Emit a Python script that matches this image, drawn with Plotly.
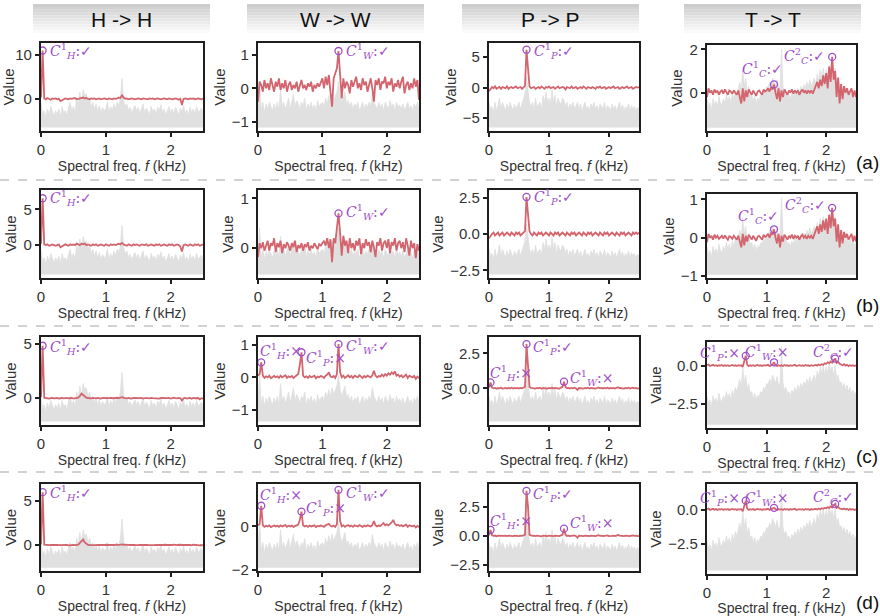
import numpy as np
import plotly.graph_objects as go

# frequency grid (kHz), 101 bins over 0..2.5
FREQ = np.linspace(0, 2.5, 101)

COLUMNS = ['H -> H', 'W -> W', 'P -> P', 'T -> T']
ROW_TAGS = ['(a)', '(b)', '(c)', '(d)']

# red: learned spectrum per panel (row a..d, column H, W, P, T)
RED_H_A = [0.3, 11.0, 0.1, -0.1, 0.2, 0.0, -0.2, 0.1, 0.0, 0.1,
           -0.1, 0.0, -0.5, -0.3, 0.0, 0.1, 0.0, -0.1, 0.1, 0.0,
           0.1, 0.2, -0.1, 0.0, 0.1, 0.2, 0.3, 0.1, 0.2, 0.0,
           -0.1, 0.1, 0.0, 0.1, -0.1, 0.0, 0.1, -0.1, 0.0, 0.1,
           0.0, -0.1, 0.1, 0.0, -0.1, 0.1, 0.0, 0.1, 0.3, 0.2,
           0.8, 0.3, 0.0, 0.1, -0.1, 0.0, 0.1, 0.0, -0.1, 0.0,
           0.1, 0.0, -0.1, 0.1, 0.0, 0.0, -0.1, 0.1, 0.0, 0.1,
           -0.1, 0.0, 0.1, 0.0, -0.1, 0.0, 0.1, 0.0, -0.1, 0.1,
           0.0, -0.1, 0.0, 0.1, 0.0, -0.2, 0.0, -1.4, 0.0, 0.1,
           0.0, -0.1, 0.1, 0.0, 0.1, -0.1, 0.0, 0.1, 0.0, -0.1,
           0.1]
RED_W_A = [-0.4, 0.2, 0.1, -0.1, 0.25, 0.0, 0.15, -0.05, 0.3, 0.1,
           -0.1, 0.2, 0.05, 0.3, -0.05, 0.15, 0.0, 0.25, -0.1, 0.1,
           0.2, -0.05, 0.1, 0.0, 0.2, -0.1, 0.1, 0.25, 0.0, 0.1,
           -0.05, 0.15, 0.05, 0.2, -0.1, 0.1, 0.0, 0.15, 0.05, 0.2,
           0.3, 0.0, 0.35, 0.1, 0.4, -0.1, -0.55, 0.3, 0.45, 0.6,
           1.12, 0.35, -0.3, 0.3, 0.0, 0.2, 0.1, -0.15, 0.25, 0.05,
           0.2, 0.35, 0.0, 0.15, -0.05, 0.3, 0.1, 0.2, -0.1, 0.15,
           0.3, 0.0, -0.4, 0.25, 0.1, 0.3, -0.05, 0.2, 0.15, 0.35,
           0.0, 0.2, 0.1, 0.3, -0.1, 0.15, 0.05, 0.25, 0.0, 0.2,
           0.35, -0.15, 0.1, 0.2, -0.05, 0.15, 0.0, 0.3, 0.05, 0.25,
           -0.35]
RED_P_A = [-0.6, -0.2, 0.1, -0.1, 0.2, -0.2, 0.0, 0.1, -0.2, 0.1,
           0.0, -0.1, 0.2, -0.2, 0.0, 0.1, -0.1, 0.0, 0.2, -0.1,
           0.0, 0.1, -0.2, 0.0, 0.3, 6.2, 3.5, 0.2, -0.1, 0.0,
           0.1, -0.2, 0.0, 0.1, -0.1, 0.2, 0.0, -0.2, 0.1, 0.0,
           0.2, -0.1, 0.0, 0.1, -0.2, 0.0, 0.2, -0.1, 0.0, 0.1,
           0.0, -0.3, 0.1, 0.0, -0.1, 0.2, -0.1, 0.0, 0.1, -0.2,
           0.0, 0.1, -0.1, 0.2, 0.0, -0.2, 0.1, 0.0, -0.1, 0.1,
           0.0, -0.2, 0.1, 0.0, 0.2, -0.1, 0.0, 0.1, -0.2, 0.0,
           0.1, -0.1, 0.0, 0.2, -0.1, 0.0, 0.1, -0.2, 0.0, 0.1,
           -0.1, 0.0, 0.2, -0.1, 0.0, 0.1, -0.2, 0.0, 0.1, 0.0,
           0.1]
RED_T_A = [-0.2, 0.2, 0.0, 0.1, -0.1, 0.15, 0.0, 0.1, -0.1, 0.05,
           0.1, -0.05, 0.15, 0.0, -0.1, 0.1, 0.05, -0.05, 0.1, 0.0,
           -0.1, 0.1, -0.2, -0.5, 0.2, -0.4, 0.1, -0.2, 0.15, 0.0,
           -0.1, 0.1, 0.0, -0.15, 0.05, 0.1, 0.0, -0.1, 0.15, 0.05,
           0.1, 0.2, 0.05, 0.25, 0.15, 0.38, 0.0, -0.3, 0.2, -0.4,
           0.1, -0.2, 0.15, 0.0, -0.1, 0.1, 0.0, 0.15, -0.05, 0.1,
           0.0, 0.1, -0.1, 0.05, 0.15, 0.0, 0.1, -0.05, 0.1, 0.0,
           0.1, -0.05, 0.15, 0.3, 0.5, 0.2, 0.6, 0.3, 0.8, 0.4,
           0.9, 0.2, 1.2, 0.5, 1.65, 0.6, 1.0, -0.2, 0.7, -0.5,
           0.4, -0.3, 0.3, 0.0, 0.2, -0.1, 0.1, 0.2, -0.2, 0.1,
           -0.2]

RED_H_B = [0.2, 6.55, 0.1, 0.0, 0.1, -0.1, 0.0, 0.1, 0.0, -0.1,
           0.0, 0.1, -0.3, -0.2, 0.0, 0.1, 0.0, -0.1, 0.1, 0.0,
           0.1, 0.0, 0.2, 0.1, 0.0, 0.2, 0.1, 0.2, 0.0, 0.1,
           0.0, -0.1, 0.1, 0.0, 0.1, -0.1, 0.0, 0.1, 0.0, -0.1,
           0.1, 0.0, -0.1, 0.1, 0.0, 0.1, 0.0, 0.1, 0.2, 0.1,
           0.3, 0.1, 0.0, -0.1, 0.1, 0.0, -0.1, 0.1, 0.0, 0.1,
           0.0, -0.1, 0.1, 0.0, 0.0, 0.1, -0.1, 0.0, 0.1, 0.0,
           -0.1, 0.1, 0.0, 0.1, -0.1, 0.0, 0.1, 0.0, -0.1, 0.1,
           0.0, 0.1, -0.1, 0.0, 0.1, 0.0, -0.2, -0.9, 0.0, 0.1,
           0.0, -0.1, 0.1, 0.0, -0.1, 0.1, 0.0, 0.1, -0.1, 0.0,
           0.1]
RED_W_B = [-0.18, 0.1, 0.0, 0.12, -0.05, 0.08, 0.15, -0.05, 0.1, 0.05,
           0.2, -0.08, 0.1, 0.02, 0.15, -0.1, 0.08, 0.0, 0.12, 0.05,
           -0.05, 0.1, 0.02, 0.15, -0.08, 0.06, 0.0, 0.1, -0.05, 0.08,
           0.02, 0.12, -0.05, 0.05, 0.0, 0.1, 0.03, -0.02, 0.08, 0.05,
           0.1, 0.15, 0.05, 0.2, 0.0, 0.18, -0.28, 0.2, 0.1, 0.35,
           0.7, 0.3, -0.15, 0.25, 0.05, 0.15, -0.1, 0.2, 0.0, 0.1,
           -0.05, 0.15, 0.05, 0.2, -0.12, 0.1, 0.0, 0.18, 0.05, 0.12,
           -0.08, 0.15, 0.02, -0.18, 0.12, 0.05, 0.2, -0.05, 0.1, 0.15,
           0.0, 0.18, -0.1, 0.12, 0.05, 0.2, -0.05, 0.1, 0.15, 0.0,
           0.12, -0.08, 0.2, 0.05, -0.15, 0.15, 0.0, 0.1, -0.2, 0.08,
           -0.05]
RED_P_B = [-0.3, -0.1, 0.0, 0.1, -0.1, 0.0, 0.1, -0.1, 0.0, 0.1,
           -0.1, 0.0, 0.1, 0.0, -0.1, 0.1, 0.0, -0.1, 0.1, 0.0,
           0.1, -0.1, 0.0, 0.1, 0.2, 2.55, 1.5, 0.2, 0.0, -0.1,
           0.1, 0.0, -0.1, 0.1, 0.0, 0.1, -0.1, 0.0, 0.1, 0.0,
           -0.1, 0.1, 0.0, -0.1, 0.1, 0.0, 0.1, -0.1, 0.0, 0.1,
           0.0, -0.1, 0.1, 0.0, -0.1, 0.1, 0.0, 0.1, -0.1, 0.0,
           0.1, 0.0, -0.1, 0.1, 0.0, -0.1, 0.1, 0.0, 0.1, -0.1,
           0.0, 0.1, 0.0, -0.1, 0.1, 0.0, -0.1, 0.1, 0.0, 0.1,
           -0.1, 0.0, 0.1, 0.0, -0.1, 0.1, 0.0, -0.1, 0.1, 0.0,
           0.1, -0.1, 0.0, 0.1, 0.0, -0.1, 0.1, 0.0, 0.1, 0.0,
           0.1]
RED_T_B = [-0.12, 0.1, 0.0, 0.05, -0.05, 0.08, 0.0, 0.05, -0.03, 0.02,
           0.05, -0.02, 0.06, 0.0, -0.05, 0.04, 0.02, -0.03, 0.05, 0.0,
           -0.05, 0.05, -0.1, -0.25, 0.1, -0.2, 0.05, -0.1, 0.08, 0.0,
           -0.05, 0.05, 0.0, -0.08, 0.03, 0.05, 0.0, -0.05, 0.08, 0.02,
           0.05, 0.1, 0.0, 0.12, 0.08, 0.22, 0.0, -0.15, 0.1, -0.25,
           0.05, -0.1, 0.08, 0.0, -0.05, 0.05, 0.0, 0.08, -0.03, 0.05,
           0.0, 0.05, -0.05, 0.03, 0.08, 0.0, 0.05, -0.03, 0.05, 0.0,
           0.05, -0.03, 0.08, 0.15, 0.3, 0.1, 0.35, 0.15, 0.45, 0.2,
           0.5, 0.1, 0.6, 0.25, 0.78, 0.3, 0.5, -0.1, 0.35, -0.25,
           0.2, -0.15, 0.15, 0.0, 0.1, -0.05, 0.05, 0.1, -0.1, 0.05,
           -0.1]

RED_H_C = [0.1, 4.8, 0.05, 0.0, 0.02, -0.03, 0.0, 0.03, -0.02, 0.0,
           0.02, -0.03, 0.0, 0.02, -0.02, 0.0, 0.03, -0.02, 0.0, 0.02,
           -0.03, 0.0, 0.02, 0.05, 0.2, 0.42, 0.3, 0.15, 0.05, 0.02,
           0.0, -0.02, 0.03, 0.0, -0.02, 0.02, 0.0, -0.03, 0.02, 0.0,
           0.03, -0.02, 0.0, 0.02, -0.02, 0.0, 0.03, 0.0, 0.02, 0.05,
           0.1, 0.03, 0.0, -0.02, 0.02, 0.0, -0.03, 0.02, 0.0, 0.03,
           -0.02, 0.0, 0.02, -0.03, 0.0, 0.02, 0.0, -0.02, 0.03, 0.0,
           -0.02, 0.02, 0.0, -0.03, 0.02, 0.0, 0.03, -0.02, 0.0, 0.02,
           -0.03, 0.0, 0.05, 0.0, -0.02, 0.03, 0.0, -0.2, 0.0, 0.02,
           -0.03, 0.0, 0.02, -0.05, 0.03, 0.0, -0.02, 0.02, -0.1, 0.0,
           -0.05]
RED_W_C = [0.05, 0.1, 0.46, 0.05, -0.02, 0.03, 0.0, 0.05, -0.03, 0.02,
           0.04, 0.0, 0.03, -0.02, 0.05, 0.0, 0.02, 0.06, -0.02, 0.03,
           0.0, 0.04, -0.02, 0.03, 0.05, 0.1, 0.4, 0.77, 0.05, 0.0,
           0.03, -0.02, 0.04, 0.0, 0.02, 0.05, -0.03, 0.02, 0.0, 0.04,
           0.02, -0.02, 0.05, 0.08, 0.15, 0.03, 0.0, 0.04, -0.02, 0.1,
           1.02, 0.15, 0.0, 0.05, -0.02, 0.03, 0.06, 0.0, 0.04, -0.02,
           0.05, 0.02, 0.0, 0.06, 0.03, -0.02, 0.04, 0.0, 0.05, 0.02,
           0.0, 0.06, 0.2, 0.05, 0.0, 0.04, 0.02, 0.08, 0.03, 0.1,
           0.05, 0.12, 0.08, 0.15, 0.1, 0.18, 0.05, 0.08, 0.02, 0.06,
           0.0, 0.04, 0.08, -0.02, 0.05, 0.02, 0.0, 0.04, -0.05, 0.02,
           -0.03]
RED_P_C = [0.05, 0.42, 0.05, 0.0, 0.03, -0.03, 0.02, 0.0, 0.04, -0.02,
           0.0, 0.03, -0.02, 0.02, 0.0, 0.04, -0.02, 0.02, 0.0, 0.03,
           -0.02, 0.02, 0.0, 0.05, 0.1, 3.15, 1.8, 0.1, 0.02, 0.0,
           0.03, -0.02, 0.02, 0.0, 0.04, -0.03, 0.02, 0.0, 0.03, -0.02,
           0.02, 0.0, 0.04, -0.02, 0.02, 0.0, 0.03, -0.02, 0.05, 0.1,
           0.47, 0.1, 0.0, 0.03, -0.02, 0.02, 0.0, 0.04, -0.02, -0.12,
           0.02, 0.0, 0.03, -0.02, 0.02, 0.0, 0.04, -0.02, 0.02, 0.0,
           0.03, -0.02, 0.02, 0.06, 0.0, 0.03, -0.02, 0.02, 0.0, 0.04,
           -0.02, 0.02, 0.0, 0.03, -0.02, 0.02, 0.08, 0.02, 0.0, 0.03,
           -0.02, 0.02, 0.0, 0.04, -0.02, 0.02, 0.05, 0.0, 0.03, -0.02,
           0.0]
RED_T_C = [0.05, 0.1, 0.0, 0.05, 0.08, 0.02, 0.06, 0.0, 0.05, 0.03,
           0.07, 0.0, 0.05, 0.02, 0.06, 0.0, 0.04, 0.07, 0.02, 0.05,
           0.0, 0.06, 0.03, 0.05, -0.05, 0.3, 0.68, 0.1, 0.0, 0.05,
           0.02, 0.06, 0.0, 0.04, 0.07, 0.02, 0.05, 0.0, 0.06, 0.03,
           0.05, 0.08, 0.0, 0.06, 0.1, 0.25, 0.05, 0.0, 0.06, 0.02,
           0.05, 0.0, 0.07, 0.03, 0.05, 0.0, 0.06, 0.02, 0.05, 0.08,
           0.0, 0.04, 0.06, 0.02, 0.05, 0.0, 0.07, 0.03, 0.05, 0.0,
           0.06, 0.02, 0.05, 0.08, 0.03, 0.1, 0.05, 0.12, 0.08, 0.18,
           0.15, 0.25, 0.2, 0.3, 0.22, 0.35, 0.5, 0.2, 0.28, 0.15,
           0.1, 0.05, 0.12, 0.03, 0.08, 0.0, 0.06, 0.02, 0.05, 0.0,
           0.05]

RED_H_D = [0.1, 6.0, 0.05, 0.0, 0.03, -0.02, 0.0, 0.02, -0.03, 0.0,
           0.02, -0.02, 0.0, 0.03, -0.02, 0.0, 0.02, -0.03, 0.0, 0.02,
           0.0, -0.02, 0.03, 0.05, 0.25, 0.5, 0.62, 0.3, 0.1, 0.02,
           0.0, -0.02, 0.03, 0.0, -0.02, 0.02, 0.0, -0.03, 0.02, 0.0,
           0.03, -0.02, 0.0, 0.02, -0.02, 0.0, 0.03, 0.0, 0.02, 0.04,
           0.08, 0.03, 0.0, -0.02, 0.02, 0.0, -0.03, 0.02, 0.0, 0.03,
           -0.02, 0.0, 0.02, -0.03, 0.0, 0.02, 0.0, -0.02, 0.03, 0.0,
           -0.02, 0.02, 0.0, -0.03, 0.02, 0.0, 0.03, -0.02, 0.0, 0.02,
           -0.03, 0.0, 0.04, 0.0, -0.02, 0.03, 0.0, -0.05, 0.0, 0.02,
           -0.03, 0.0, 0.02, -0.04, 0.03, 0.0, -0.02, 0.02, -0.05, 0.0,
           -0.03]
RED_W_D = [0.05, 0.1, 0.95, 0.05, -0.02, 0.03, 0.0, 0.05, -0.03, 0.02,
           0.04, 0.0, 0.03, -0.02, 0.05, 0.0, 0.02, 0.06, -0.02, 0.03,
           0.0, 0.04, -0.02, 0.03, 0.05, 0.08, 0.3, 0.68, 0.05, 0.0,
           0.03, -0.02, 0.04, 0.0, 0.02, 0.05, -0.03, 0.02, 0.0, 0.04,
           0.02, -0.02, 0.05, 0.08, 0.12, 0.03, 0.0, 0.04, -0.02, 0.1,
           1.68, 0.25, 0.0, 0.05, -0.02, 0.03, 0.06, 0.0, 0.04, -0.02,
           0.05, 0.02, 0.0, 0.06, 0.03, -0.02, 0.04, 0.0, 0.05, 0.02,
           0.0, 0.06, 0.25, 0.05, 0.0, 0.04, 0.02, 0.08, 0.15, 0.05,
           0.1, 0.05, 0.12, 0.18, 0.3, 0.12, 0.05, 0.08, 0.02, 0.06,
           0.0, 0.04, 0.08, -0.02, 0.05, 0.02, 0.0, 0.04, -0.05, 0.02,
           -0.03]
RED_P_D = [0.05, 0.51, 0.05, 0.0, 0.03, -0.03, 0.02, 0.0, 0.04, -0.02,
           0.0, 0.03, -0.02, 0.02, 0.0, 0.04, -0.02, 0.02, 0.0, 0.03,
           -0.02, 0.02, 0.0, 0.05, 0.1, 3.85, 2.5, 0.1, 0.02, 0.0,
           0.03, -0.02, 0.02, 0.0, 0.04, -0.03, 0.02, 0.0, 0.03, -0.02,
           0.02, 0.0, 0.04, -0.02, 0.02, 0.0, 0.03, -0.02, 0.05, 0.1,
           0.62, 0.1, 0.0, 0.03, -0.02, 0.02, 0.0, 0.04, -0.02, -0.15,
           0.02, 0.0, 0.03, -0.02, 0.02, 0.0, 0.04, -0.02, 0.02, 0.0,
           0.03, -0.02, 0.02, 0.06, 0.0, 0.03, -0.02, 0.02, 0.0, 0.04,
           -0.02, 0.02, 0.0, 0.03, -0.02, 0.02, 0.1, 0.02, 0.0, 0.03,
           -0.02, 0.02, 0.0, 0.04, -0.02, 0.02, 0.05, 0.0, 0.03, -0.02,
           0.0]
RED_T_D = [0.05, 0.1, 0.0, 0.05, 0.08, 0.02, 0.06, 0.0, 0.05, 0.03,
           0.07, 0.0, 0.05, 0.02, 0.06, 0.0, 0.04, 0.07, 0.02, 0.05,
           0.0, 0.06, 0.03, 0.05, -0.1, 0.35, 0.68, 0.1, 0.0, 0.05,
           0.02, 0.06, 0.0, 0.04, 0.07, 0.02, 0.05, 0.0, 0.06, 0.03,
           0.05, 0.08, 0.0, 0.06, 0.08, 0.15, 0.05, 0.0, 0.06, 0.02,
           0.05, 0.0, 0.07, 0.03, 0.05, 0.0, 0.06, 0.02, 0.05, 0.08,
           0.0, 0.04, 0.06, 0.02, 0.05, 0.0, 0.07, 0.03, 0.05, 0.0,
           0.06, 0.02, 0.05, 0.08, 0.03, 0.1, 0.05, 0.12, 0.08, 0.15,
           0.12, 0.2, 0.15, 0.25, 0.18, 0.3, 0.44, 0.15, 0.22, 0.1,
           0.08, 0.05, 0.1, 0.03, 0.08, 0.0, 0.06, 0.02, 0.05, 0.0,
           0.05]

# grey: input spectrum per column, as a fraction of the panel height
GREY_H = [0.3, 0.15, 0.2, 0.12, 0.22, 0.15, 0.25, 0.18, 0.14, 0.2,
          0.16, 0.22, 0.13, 0.25, 0.18, 0.2, 0.15, 0.24, 0.3, 0.2,
          0.25, 0.18, 0.35, 0.28, 0.42, 0.3, 0.45, 0.38, 0.4, 0.3,
          0.35, 0.25, 0.3, 0.22, 0.28, 0.2, 0.26, 0.18, 0.24, 0.2,
          0.22, 0.3, 0.18, 0.25, 0.2, 0.28, 0.22, 0.3, 0.26, 0.35,
          0.58, 0.32, 0.25, 0.28, 0.2, 0.24, 0.18, 0.22, 0.26, 0.2,
          0.24, 0.17, 0.22, 0.28, 0.18, 0.23, 0.2, 0.15, 0.25, 0.19,
          0.22, 0.16, 0.24, 0.2, 0.27, 0.18, 0.22, 0.15, 0.2, 0.25,
          0.18, 0.22, 0.16, 0.24, 0.2, 0.15, 0.23, 0.19, 0.26, 0.17,
          0.21, 0.15, 0.24, 0.18, 0.22, 0.16, 0.25, 0.19, 0.2, 0.23,
          0.18]
GREY_W = [0.25, 0.55, 0.2, 0.3, 0.18, 0.28, 0.22, 0.3, 0.25, 0.2,
          0.28, 0.22, 0.3, 0.2, 0.45, 0.25, 0.3, 0.22, 0.28, 0.35,
          0.22, 0.3, 0.4, 0.25, 0.32, 0.28, 0.22, 0.3, 0.26, 0.35,
          0.2, 0.28, 0.24, 0.3, 0.22, 0.27, 0.2, 0.32, 0.25, 0.28,
          0.3, 0.25, 0.35, 0.28, 0.38, 0.3, 0.4, 0.32, 0.36, 0.42,
          0.55, 0.38, 0.3, 0.35, 0.42, 0.28, 0.32, 0.25, 0.3, 0.22,
          0.28, 0.25, 0.3, 0.2, 0.26, 0.3, 0.22, 0.28, 0.24, 0.3,
          0.25, 0.4, 0.3, 0.26, 0.22, 0.3, 0.24, 0.28, 0.2, 0.3,
          0.26, 0.22, 0.32, 0.25, 0.28, 0.2, 0.3, 0.24, 0.27, 0.22,
          0.28, 0.2, 0.25, 0.3, 0.22, 0.26, 0.2, 0.28, 0.24, 0.3,
          0.22]
GREY_P = [0.3, 0.22, 0.25, 0.18, 0.3, 0.2, 0.26, 0.35, 0.22, 0.3,
          0.25, 0.2, 0.28, 0.22, 0.3, 0.25, 0.2, 0.28, 0.22, 0.26,
          0.3, 0.22, 0.28, 0.32, 0.4, 0.6, 0.45, 0.3, 0.25, 0.3,
          0.22, 0.35, 0.25, 0.28, 0.3, 0.22, 0.38, 0.3, 0.42, 0.3,
          0.35, 0.28, 0.45, 0.3, 0.38, 0.25, 0.35, 0.3, 0.28, 0.35,
          0.32, 0.25, 0.3, 0.22, 0.28, 0.25, 0.3, 0.22, 0.26, 0.3,
          0.22, 0.28, 0.2, 0.26, 0.3, 0.22, 0.25, 0.2, 0.28, 0.24,
          0.3, 0.22, 0.26, 0.2, 0.28, 0.25, 0.22, 0.3, 0.2, 0.26,
          0.24, 0.2, 0.28, 0.22, 0.26, 0.2, 0.25, 0.3, 0.22, 0.27,
          0.2, 0.25, 0.22, 0.28, 0.2, 0.26, 0.22, 0.25, 0.2, 0.24,
          0.22]
GREY_T = [0.35, 0.25, 0.3, 0.22, 0.35, 0.28, 0.32, 0.25, 0.38, 0.3,
          0.28, 0.35, 0.3, 0.4, 0.32, 0.38, 0.3, 0.42, 0.35, 0.45,
          0.4, 0.5, 0.55, 0.45, 0.7, 0.5, 0.6, 0.42, 0.5, 0.38,
          0.4, 0.32, 0.38, 0.3, 0.36, 0.33, 0.4, 0.38, 0.45, 0.42,
          0.5, 0.48, 0.55, 0.5, 0.6, 0.55, 0.5, 0.58, 0.48, 0.5,
          0.95, 0.5, 0.42, 0.45, 0.38, 0.4, 0.35, 0.42, 0.38, 0.45,
          0.4, 0.48, 0.42, 0.5, 0.45, 0.52, 0.48, 0.55, 0.5, 0.58,
          0.5, 0.55, 0.6, 0.52, 0.65, 0.58, 0.7, 0.62, 0.72, 0.6,
          0.7, 0.62, 0.75, 0.65, 0.7, 0.6, 0.72, 0.55, 0.6, 0.5,
          0.52, 0.45, 0.5, 0.42, 0.48, 0.4, 0.45, 0.38, 0.42, 0.36,
          0.4]

RED = [[RED_H_A, RED_W_A, RED_P_A, RED_T_A],
       [RED_H_B, RED_W_B, RED_P_B, RED_T_B],
       [RED_H_C, RED_W_C, RED_P_C, RED_T_C],
       [RED_H_D, RED_W_D, RED_P_D, RED_T_D]]
GREY = [GREY_H, GREY_W, GREY_P, GREY_T]

# y-axis ranges and ticks per panel
Y_RANGE = [[[-7.3, 12.7], [-1.28, 1.36], [-7.1, 7.3], [-1.77, 2.2]],
           [[-4.6, 7.7], [-0.6, 1.17], [-3.03, 3.03], [-1.05, 1.14]],
           [[-2.45, 5.6], [-1.47, 1.24], [-2.62, 3.66], [-4.12, 1.6]],
           [[-2.95, 6.93], [-2.05, 1.95], [-3.0, 4.44], [-4.7, 1.9]]]
Y_TICKS = [[[0, 10], [-1, 0, 1], [-5, 0, 5], [0, 2]],
           [[0, 5], [0, 1], [-2.5, 0, 2.5], [-1, 0, 1]],
           [[0, 5], [-1, 0, 1], [0, 2.5], [-2.5, 0]],
           [[0, 5], [-2, 0], [-2.5, 0, 2.5], [-2.5, 0]]]
Y_FMT_ROW = [['', '', '', ''], ['', '', '.1f', ''],
             ['', '', '.1f', '.1f'], ['', '', '.1f', '.1f']]

# peak marks: (bin index, sub letter, correct?, superscript)
MARKS = [[[(1, 'H', True)], [(50, 'W', True)], [(25, 'P', True)],
          [(45, 'C', True, '1'), (84, 'C', True, '2')]],
         [[(1, 'H', True)], [(50, 'W', True)], [(25, 'P', True)],
          [(45, 'C', True, '1'), (84, 'C', True, '2')]],
         [[(1, 'H', True)], [(2, 'H', False), (27, 'P', False), (50, 'W', True)],
          [(1, 'H', False), (25, 'P', True), (50, 'W', False)],
          [(26, 'P', False), (45, 'W', False), (86, 'C', True, '2')]],
         [[(1, 'H', True)], [(2, 'H', False), (27, 'P', False), (50, 'W', True)],
          [(1, 'H', False), (25, 'P', True), (50, 'W', False)],
          [(26, 'P', False), (45, 'W', False), (86, 'C', True, '2')]]]

# label placement (xanchor, xshift, yshift) for each mark
MARK_POS = [[[('left', 5, -1)], [('left', 5, 0)], [('left', 5, -1)],
             [('center', -12, 15), ('right', -5, 1)]],
            [[('left', 5, 0)], [('left', 5, 1)], [('left', 5, 0)],
             [('center', -16, 13), ('right', -4, 3)]],
            [[('left', 5, -1)], [('left', -3, 11), ('left', 3, -6), ('left', 5, -2)],
             [('left', -3, 9), ('left', 4, -3), ('left', 4, 4)],
             [('right', -4, 3), ('center', -8, 10), ('center', -2, 7)]],
            [[('left', 5, -1)], [('left', -3, 11), ('left', 3, 4), ('left', 5, -3)],
             [('left', -3, 9), ('left', 4, -3), ('left', 4, 6)],
             [('right', -4, 3), ('center', -8, 10), ('center', -2, 7)]]]

W, H = 880, 616
COL_X = [(41, 203), (258, 419), (489, 639), (707, 856)]
ROW_Y = [[(43, 131), (43, 131), (43, 131), (45, 131)],
         [(190, 278), (190, 278), (190, 278), (194, 278)],
         [(337, 425), (337, 425), (337, 425), (342, 428)],
         [(484, 571), (484, 571), (484, 571), (484, 574)]]

RED_COLOR = '#d2656e'
GREY_COLOR = '#e0e0e0'
PURPLE = '#a04fc8'
INK = '#1f1f1f'
FONT = 'Liberation Sans'


def name(prefix, n):
    return prefix if n == 1 else prefix + str(n)


fig = go.Figure()
layout = {}
annotations = []

for r in range(4):
    for c in range(4):
        n = r * 4 + c + 1
        m = n + 16
        x0, x1 = COL_X[c]
        y0, y1 = ROW_Y[r][c]
        xdom = [x0 / W, x1 / W]
        ydom = [1 - y1 / H, 1 - y0 / H]

        # grey background spectrum on a hidden axis
        fig.add_trace(go.Scatter(x=FREQ, y=GREY[c], mode='lines', fill='tozeroy',
                                 fillcolor=GREY_COLOR, line=dict(color=GREY_COLOR, width=0.8),
                                 xaxis=name('x', n), yaxis=name('y', n), hoverinfo='skip'))
        # red learned spectrum on the visible axis
        fig.add_trace(go.Scatter(x=FREQ, y=RED[r][c], mode='lines',
                                 line=dict(color=RED_COLOR, width=1.8),
                                 xaxis=name('x', n), yaxis=name('y', m)))

        marks = MARKS[r][c]
        mx = [FREQ[mk[0]] for mk in marks]
        my = [RED[r][c][mk[0]] for mk in marks]
        fig.add_trace(go.Scatter(x=mx, y=my, mode='markers',
                                 marker=dict(symbol='circle-open', size=7,
                                             color=PURPLE, line=dict(width=1.3)),
                                 xaxis=name('x', n), yaxis=name('y', m)))
        for mk, pos in zip(marks, MARK_POS[r][c]):
            sup = mk[3] if len(mk) > 3 else '1'
            sign = '✓' if mk[2] else '×'
            txt = f'<i>C</i><sup>{sup}</sup><sub><i>{mk[1]}</i></sub>:{sign}'
            annotations.append(dict(x=FREQ[mk[0]], y=RED[r][c][mk[0]],
                                    xref=name('x', n), yref=name('y', m),
                                    text=txt, showarrow=False, xanchor=pos[0],
                                    yanchor='middle', xshift=pos[1], yshift=pos[2],
                                    font=dict(family='DejaVu Serif', size=14, color=PURPLE)))

        layout[name('xaxis', n)] = dict(
            domain=xdom, range=[0, 2.5], anchor=name('y', n), automargin=False,
            tickvals=[0, 1, 2], ticks='outside', ticklen=4, tickwidth=1.5, tickcolor=INK,
            showline=True, linewidth=2.2, linecolor=INK, mirror=True,
            showgrid=False, zeroline=False,
            tickfont=dict(family=FONT, size=15, color='#333'),
            title=dict(text='Spectral freq. <i>f</i> (kHz)', standoff=1,
                       font=dict(family=FONT, size=14, color='#333')))
        layout[name('yaxis', n)] = dict(domain=ydom, range=[-0.04, 1.0], automargin=False,
                                        anchor=name('x', n), visible=False)
        layout[name('yaxis', m)] = dict(
            overlaying=name('y', n), anchor=name('x', n), side='left', automargin=False,
            range=Y_RANGE[r][c], tickvals=Y_TICKS[r][c], tickformat=Y_FMT_ROW[r][c],
            ticks='outside', ticklen=4, tickwidth=1.5, tickcolor=INK,
            showline=True, linewidth=2.2, linecolor=INK, mirror=True,
            showgrid=False, zeroline=False,
            tickfont=dict(family=FONT, size=15, color='#333'),
            title=dict(text='Value', standoff=3,
                       font=dict(family=FONT, size=15, color='#333')))

shapes = []
# column header boxes with a soft vertical gradient
HEAD_X = [(33, 210), (247, 424), (462, 639), (684, 861)]
strips = 10
for hx0, hx1 in HEAD_X:
    for k in range(strips):
        ya = 4 + k * 29 / strips
        yb = 4 + (k + 1) * 29 / strips
        g = int(205 + (250 - 205) * k / (strips - 1))
        shapes.append(dict(type='rect', xref='paper', yref='paper',
                           x0=hx0 / W, x1=hx1 / W, y0=1 - yb / H, y1=1 - ya / H,
                           line=dict(width=0), fillcolor=f'rgb({g},{g},{g})', layer='below'))
for col, (hx0, hx1) in zip(COLUMNS, HEAD_X):
    annotations.append(dict(x=(hx0 + hx1) / 2 / W, y=1 - 19 / H, xref='paper', yref='paper',
                            text=col, showarrow=False, xanchor='center', yanchor='middle',
                            font=dict(family=FONT, size=21, color='#111')))

# dashed row separators
for yy in [180, 326, 472]:
    shapes.append(dict(type='line', xref='paper', yref='paper', x0=0, x1=1,
                       y0=1 - yy / H, y1=1 - yy / H,
                       line=dict(color='#c4c4c4', width=1.5, dash='dash')))

for tag, yy in zip(ROW_TAGS, [162, 305, 456, 602]):
    annotations.append(dict(x=867 / W, y=1 - yy / H, xref='paper', yref='paper',
                            text=tag, showarrow=False, xanchor='center', yanchor='middle',
                            font=dict(family=FONT, size=19, color='#111')))

fig.update_layout(**layout)
fig.update_layout(width=W, height=H, margin=dict(l=0, r=0, t=0, b=0, autoexpand=False),
                  paper_bgcolor='white', plot_bgcolor='white', showlegend=False,
                  shapes=shapes, annotations=annotations)

# drop the browser's default page margin so the figure sits at the window corner
fig.write_html('out.html', config={'displayModeBar': False},
               post_script="document.body.style.margin='0';document.body.style.overflow='hidden';")
